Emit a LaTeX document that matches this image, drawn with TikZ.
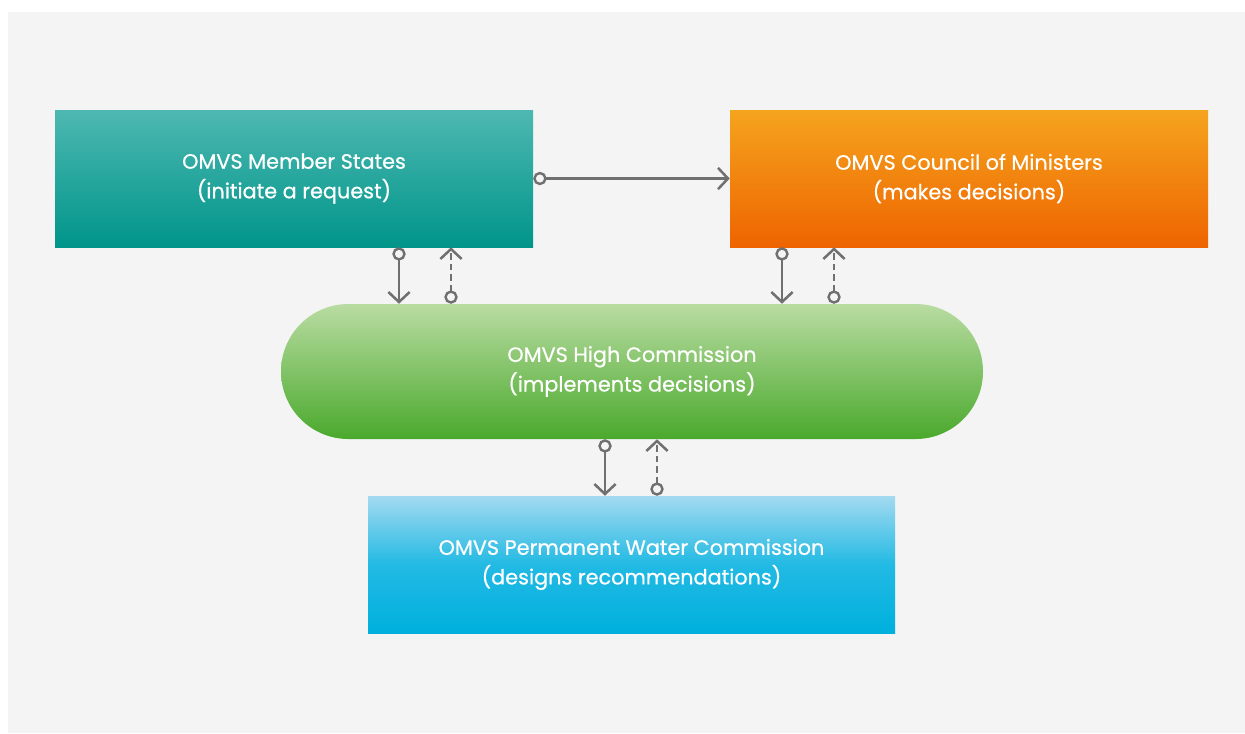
\documentclass[tikz,border=0pt]{standalone}
\usepackage{fontspec}
\setmainfont{Poppins}[FakeBold=0.6]
\usetikzlibrary{arrows.meta}
\definecolor{bggray}{HTML}{F4F4F4}
\definecolor{conncol}{HTML}{707070}
\definecolor{tealtop}{HTML}{4DB8B1}
\definecolor{tealbot}{HTML}{00958A}
\definecolor{orgtop}{HTML}{F5A41E}
\definecolor{orgbot}{HTML}{EE6400}
\definecolor{grntop}{HTML}{B9DCA2}
\definecolor{grnbot}{HTML}{4AA92C}
\definecolor{blutop}{HTML}{A4DAF0}
\definecolor{blumid}{HTML}{22BAE4}
\definecolor{blubot}{HTML}{00B0DD}
\tikzset{
  box/.style={draw=none, text=white, align=center, inner sep=0pt,
    font=\fontsize{15.6pt}{22.2pt}\selectfont},
  conn/.style={draw=conncol, line width=1.9pt,
    {Circle[open, length=10pt, width=10pt, fill=bggray, line width=1.8pt]}-{Straight Barb[length=7.5pt, width=16pt, line width=1.9pt]}},
  dconn/.style={conn, dash pattern=on 5pt off 3pt}
}
\begin{document}
\begin{tikzpicture}[x=0.75pt, y=-0.75pt]
\useasboundingbox (0,0) rectangle (1245,733);
\fill[bggray] (8,12) rectangle (1245,733);
\node[box, minimum width=358.5pt, minimum height=102.75pt, top color=tealtop, bottom color=tealbot] (ms) at (294,178.5) {OMVS Member States\\(initiate a request)};
\node[box, minimum width=358.5pt, minimum height=102.75pt, top color=orgtop, bottom color=orgbot] (cm) at (969,178.5) {OMVS Council of Ministers\\(makes decisions)};
\node[box, minimum width=526.5pt, minimum height=101.25pt, rounded corners=50.6pt, top color=grntop, bottom color=grnbot] (hc) at (632,371.5) {OMVS High Commission\\(implements decisions)};
\node[box, minimum width=395.25pt, minimum height=102.75pt, top color=blutop, bottom color=blubot, middle color=blumid] (wc) at (631.5,564.5) {OMVS Permanent Water Commission\\(designs recommendations)};
% connector points
\path (ms.south) ++(78.75pt,0) coordinate (a1);
\path (ms.south) ++(117.75pt,0) coordinate (a2);
\path (cm.south) ++(-140.25pt,0) coordinate (b1);
\path (cm.south) ++(-101.25pt,0) coordinate (b2);
\path (hc.south) ++(-20.25pt,0) coordinate (c1);
\path (hc.south) ++(18.75pt,0) coordinate (c2);
\draw[conn] (ms) -- (cm);
\draw[conn] (a1) -- (a1 |- hc.north);
\draw[dconn] (a2 |- hc.north) -- (a2);
\draw[conn] (b1) -- (b1 |- hc.north);
\draw[dconn] (b2 |- hc.north) -- (b2);
\draw[conn] (c1) -- (c1 |- wc.north);
\draw[dconn] (c2 |- wc.north) -- (c2);
\end{tikzpicture}
\end{document}
